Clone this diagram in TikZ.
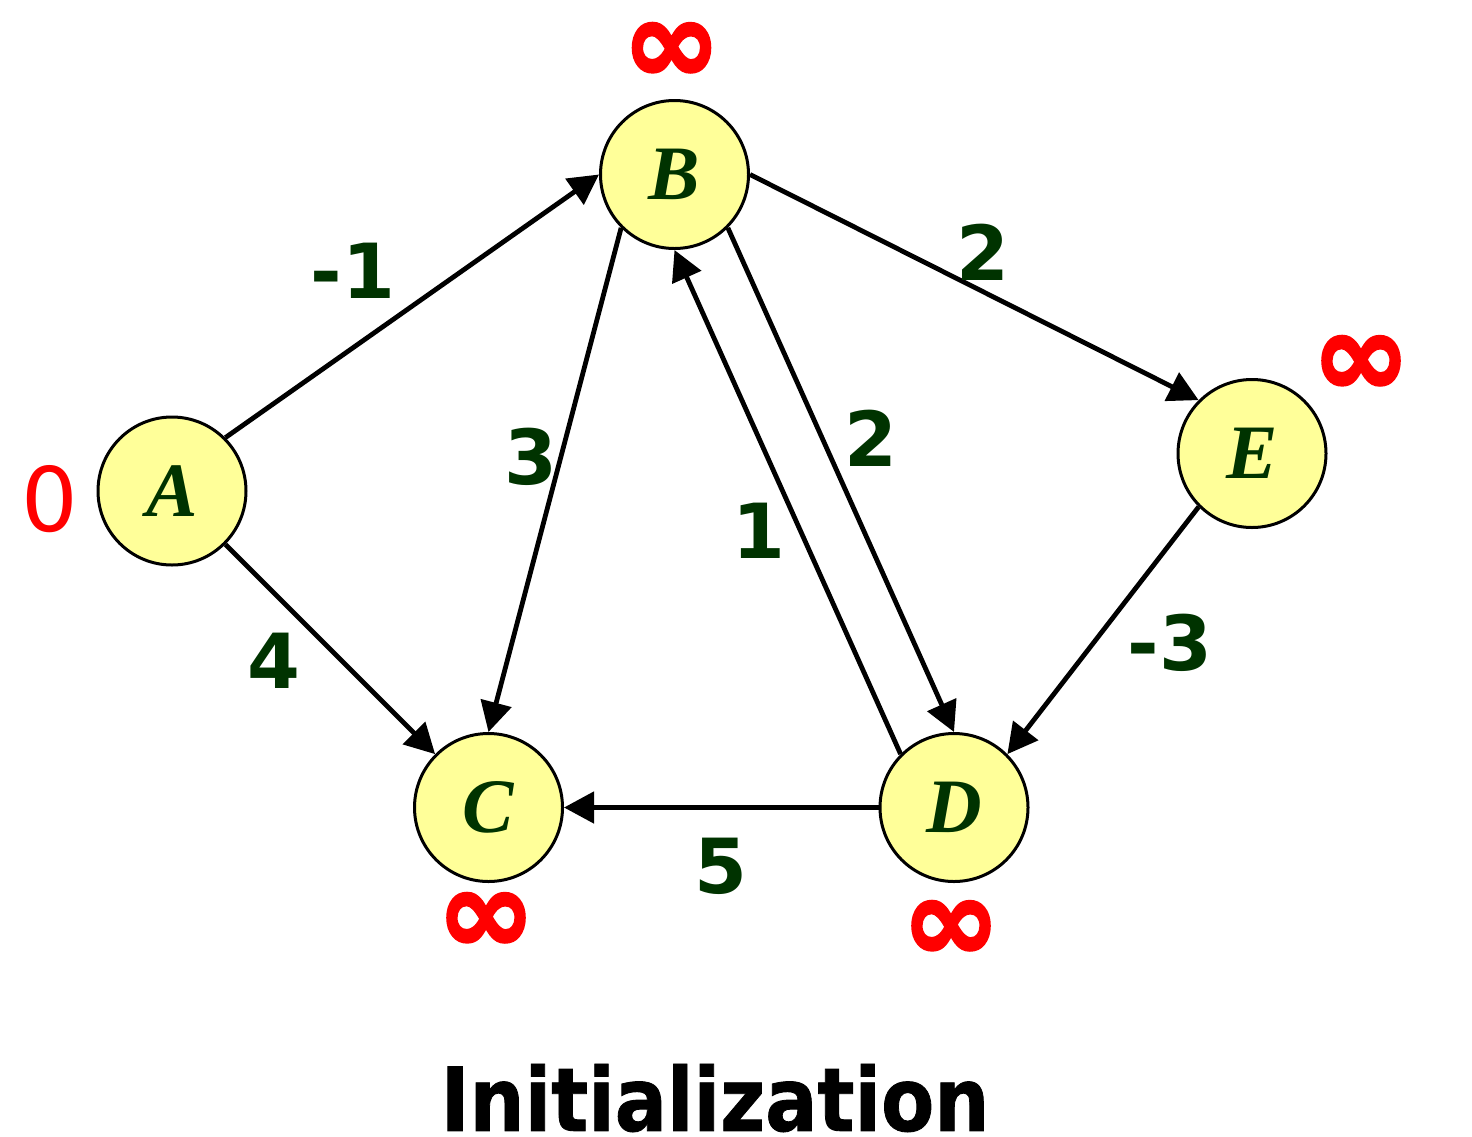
\documentclass[tikz,border=0pt]{standalone}
\usepackage{fontspec}
\usepackage{graphicx}
\setmainfont{DejaVu Sans}
\newfontfamily\nodefont{Liberation Serif}
\newfontfamily\inffont[FakeBold=2.5]{DejaVu Sans Bold}
\newfontfamily\titlefont[FakeBold=1]{DejaVu Sans Bold}
\usetikzlibrary{arrows.meta}
\definecolor{nodefill}{HTML}{FFFF99}
\definecolor{lblgreen}{HTML}{003300}
\definecolor{distred}{HTML}{FF0000}
\begin{document}
\begin{tikzpicture}[x=1pt,y=-1pt,
  vertex/.style={circle,draw=black,line width=3pt,fill=nodefill,minimum size=148pt,inner sep=0pt,
    font=\nodefont\fontsize{77}{77}\selectfont\bfseries\itshape,text=lblgreen},
  edge/.style={line width=4.8pt,-{Triangle[length=30pt,width=31pt]}},
  weight/.style={font=\fontsize{76}{76}\selectfont\bfseries,text=lblgreen,inner sep=0pt},
  dist/.style={font=\inffont\fontsize{118}{118}\selectfont,text=distred,inner sep=0pt},
  zero/.style={font=\fontsize{89}{89}\selectfont,text=distred,inner sep=0pt},
  title/.style={font=\titlefont\fontsize{88}{88}\selectfont,text=black,inner sep=0pt}
]
\useasboundingbox (0,0) rectangle (1472,1136);

\node[vertex] (A) at (172,491) {A};
\node[vertex] (B) at (674.5,174.5) {B};
\node[vertex] (C) at (488.5,807.5) {C};
\node[vertex] (D) at (954,807.5) {D};
\node[vertex] (E) at (1252,453.5) {E};

\draw[edge] (A.north east) -- (B.west);
\draw[edge] (A.south east) -- (C.north west);
\draw[edge] (B.south west) -- (C.north);
\draw[edge] (B.south east) -- (D.north);
\draw[edge] (D.north west) -- (B.south);
\draw[edge] (B.east) -- (E.north west);
\draw[edge] (E.south west) -- (D.north east);
\draw[edge] (D.west) -- (C.east);

\node[weight] (wAB) at (353,271) {-1};
\node[weight] (wBC) at (531,457) {3};
\node[weight] (wBE) at (983,252) {2};
\node[weight] (wBD) at (871,438) {2};
\node[weight] (wDB) at (759,531) {1};
\node[weight] (wED) at (1170,643) {-3};
\node[weight] (wAC) at (274,661) {4};
\node[weight] (wDC) at (721,866) {5};

\node[zero] (dA) at (50,499.5) {0};
\node[dist] (dB) at (671.5,53) {∞};
\node[dist] (dC) at (486,923) {∞};
\node[dist] (dD) at (951,931) {∞};
\node[dist] (dE) at (1361,366) {∞};

\node[title] (T) at (715,1098) {\scalebox{0.88}[1]{Initialization}};
\end{tikzpicture}
\end{document}
